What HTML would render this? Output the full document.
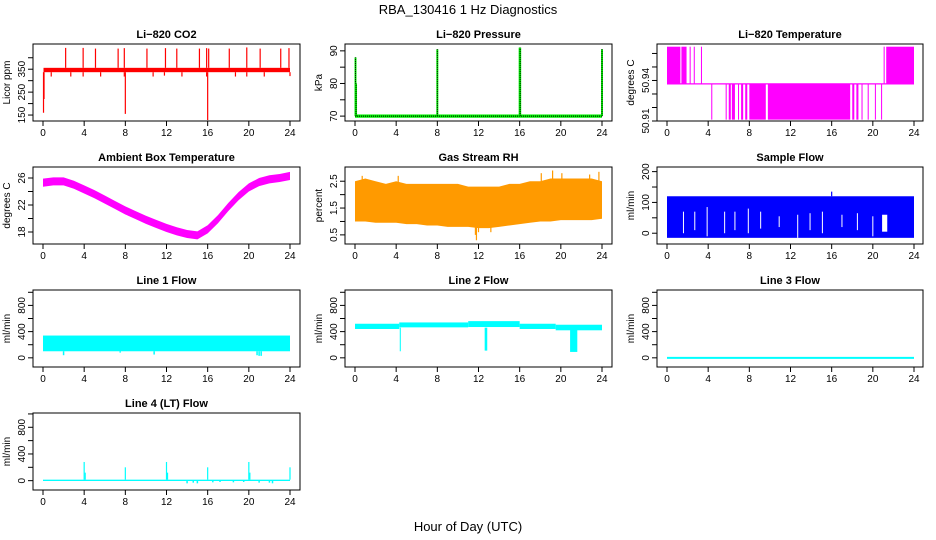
<!DOCTYPE html>
<html><head><meta charset="utf-8"><style>
html,body{margin:0;padding:0;background:#fff;}
svg{display:block;font-family:"Liberation Sans",Arial,sans-serif;}
</style></head><body>
<svg id="chart" width="936" height="540" viewBox="0 0 936 540" xmlns="http://www.w3.org/2000/svg">
<text x="468" y="14" text-anchor="middle" font-size="13">RBA_130416  1 Hz Diagnostics</text>
<text x="468" y="531" text-anchor="middle" font-size="13">Hour of Day (UTC)</text>
</svg>
<script>
// ---- data ----
var xTicks = [0,4,8,12,16,20,24];
var hours = [0,1,2,3,4,5,6,7,8,9,10,11,12,13,14,15,16,17,18,19,20,21,22,23,24];

var co2BandLow = 337, co2BandHigh = 356;
var co2UpTimes = [2.2,3.9,5.1,7.3,7.9,10.1,11.9,13.0,15.2,15.9,16.1,18.1,19.8,21.1,23.1,23.9];
var co2UpVals  = [443,443,440,440,442,440,442,440,440,442,440,440,445,440,440,442];
var co2DownTimes = [0.05,0.1,0.8,2.7,3.9,5.6,7.9,8.0,10.7,11.8,13.5,15.9,16.0,18.7,19.8,21.5,24.0];
var co2DownVals  = [160,220,318,318,318,318,318,155,318,322,318,318,128,318,318,318,320];

var presBase = 70;
var presSpikeTimes = [0.05,0.1,8.0,16.0,16.05,24.0];
var presSpikeVals  = [88,80,90.5,91,91,90.5];

var tempHigh = 50.965, tempMid = 50.9375, tempLow = 50.911;
var tempHighStart = [0,1.4,2.2,2.6,3.3,21.05,21.3];
var tempHighEnd   = [1.3,1.9,2.3,2.7,3.4,21.15,24];
var tempLowStart  = [4.3,5.7,6.0,6.3,6.9,7.2,7.6,8.0,9.8,18.0,18.4,18.9,19.5,20.2,20.8];
var tempLowEnd    = [4.4,5.8,6.2,6.6,7.0,7.4,7.8,9.6,17.8,18.2,18.6,19.0,19.6,20.3,20.9];

var ambientMean = [25.3,25.5,25.5,25.0,24.3,23.6,22.8,22.0,21.2,20.5,19.8,19.2,18.6,18.1,17.7,17.5,18.4,19.9,21.7,23.3,24.6,25.4,25.8,26.0,26.3];
var ambientHalfWidth = 0.6;

var rhMin = [1.0,1.0,0.95,0.95,0.95,0.9,0.9,0.85,0.85,0.8,0.8,0.8,0.75,0.75,0.8,0.85,0.9,0.95,1.0,1.0,1.05,1.05,1.05,1.05,1.1];
var rhMax = [2.5,2.6,2.5,2.4,2.5,2.4,2.4,2.4,2.4,2.4,2.4,2.3,2.3,2.3,2.3,2.4,2.4,2.5,2.5,2.6,2.6,2.6,2.6,2.6,2.5];
var rhSpikeTimes = [0.7,4.2,11.7,11.8,12.0,13.2,18.1,19.2,20.1,22.8,23.7];
var rhSpikeVals  = [2.7,2.7,0.5,0.3,0.6,0.6,2.8,2.9,2.8,2.75,2.85];

var sampleMin = -15, sampleMax = 120;
var sampleSpikeTimes = [16.0];
var sampleSpikeVals  = [135];
var sampleGapTimes = [1.6,2.7,3.9,5.6,6.6,7.9,9.1,10.9,12.7,13.9,15.1,17.0,18.5,20.0];
var sampleGapLow   = [0,10,-10,0,10,0,15,20,-15,10,0,20,10,-10];
var sampleGapHigh  = [70,70,85,70,70,80,70,55,60,65,70,60,65,55];

var line1Min = 100, line1Max = 340;
var line1DipTimes = [2.0,7.5,10.8,20.8,21.0,21.2];
var line1DipVals  = [40,80,50,40,30,30];

var line2SegStart = [0,4.3,11.0,16.0,19.5];
var line2SegEnd   = [4.3,11.0,16.0,19.5,24];
var line2SegMin   = [440,465,470,440,420];
var line2SegMax   = [520,540,560,520,505];
var line2DipStart = [4.35,12.6,20.9];
var line2DipEnd   = [4.45,12.85,21.6];
var line2DipVals  = [100,110,90];

var line3Value = 0;

var line4Min = -5, line4Max = 15;
var line4SpikeTimes = [4.0,4.1,8.0,12.0,12.1,16.0,20.0,20.1,24.0];
var line4SpikeVals  = [280,120,200,280,120,200,280,120,200];
var line4DipTimes = [14.0,14.6,15.0,16.5,17.2,18.5,19.5,21.0,22.0,22.3];
var line4DipVals  = [-40,-30,-40,-25,-20,-25,-20,-30,-30,-40];

// ---- layout ----
var svg = document.getElementById('chart');
var NS = 'http://www.w3.org/2000/svg';
var cols = [{bx:33,bw:267,x0:43,x1:290},{bx:345,bw:267,x0:355,x1:602},{bx:657,bw:266,x0:667,x1:914}];
var rows = [44,167,290,413];
var BH = 77;

function el(tag, attrs, name, parent) {
  var e = document.createElementNS(NS, tag);
  for (var k in attrs) e.setAttribute(k, attrs[k]);
  
  
  (parent || svg).appendChild(e);
  return e;
}

function makePanel(col, row, key, title, ylab, ymin, ymax, yticks, ylabels) {
  var c = cols[col], top = rows[row];
  var g = el('g', {}, key + '-panel');
  var p = {
    g: g,
    x: function (t) { return c.x0 + t / 24 * (c.x1 - c.x0); },
    y: function (v) { return top + BH - (v - ymin) / (ymax - ymin) * BH; }
  };
  var t = el('text', {x: c.bx + c.bw / 2, y: top - 6, 'text-anchor': 'middle', 'font-size': 11, 'font-weight': 'bold'}, key + '-title', g);
  t.textContent = title;
  var bot = top + BH;
  el('line', {x1: p.x(0), x2: p.x(24), y1: bot, y2: bot, stroke: '#000'}, key + '-x-axis-line', g);
  xTicks.forEach(function (v) {
    el('line', {x1: p.x(v), x2: p.x(v), y1: bot, y2: bot + 5, stroke: '#000'}, key + '-x-tick', g);
    var lt = el('text', {x: p.x(v), y: bot + 15, 'text-anchor': 'middle', 'font-size': 10}, key + '-x-tick-label', g);
    lt.textContent = v;
  });
  el('line', {x1: c.bx, x2: c.bx, y1: p.y(yticks[0]), y2: p.y(yticks[yticks.length - 1]), stroke: '#000'}, key + '-y-axis-line', g);
  yticks.forEach(function (v) {
    el('line', {x1: c.bx - 5, x2: c.bx, y1: p.y(v), y2: p.y(v), stroke: '#000'}, key + '-y-tick', g);
  });
  ylabels.forEach(function (v) {
    var yy = p.y(v), xx = c.bx - 8;
    var lt = el('text', {x: xx, y: yy, 'text-anchor': 'middle', 'font-size': 10, transform: 'rotate(-90 ' + xx + ' ' + yy + ')'}, key + '-y-tick-label', g);
    lt.textContent = v;
  });
  var ax = c.bx - 23, ay = top + BH / 2;
  var yt = el('text', {x: ax, y: ay, 'text-anchor': 'middle', 'font-size': 10, transform: 'rotate(-90 ' + ax + ' ' + ay + ')'}, key + '-y-axis-title', g);
  yt.textContent = ylab;
  p.dataG = el('g', {}, key + '-series', g);
  p.box = function () {
    el('rect', {x: c.bx, y: top, width: c.bw, height: BH, fill: 'none', stroke: '#000', 'stroke-width': 1}, key + '-plot-frame', g);
  };
  return p;
}

function vline(p, t, v0, v1, color, name, w) {
  el('line', {x1: p.x(t), x2: p.x(t), y1: p.y(v0), y2: p.y(v1), stroke: color, 'stroke-width': w || 1.2}, name, p.dataG);
}
function band(p, t0, t1, v0, v1, fill, name) {
  var y0 = p.y(v1), y1 = p.y(v0);
  el('rect', {x: p.x(t0), y: y0, width: p.x(t1) - p.x(t0), height: y1 - y0, fill: fill}, name, p.dataG);
}
function bandPoly(p, ts, lo, hi, fill, name) {
  var pts = [];
  for (var i = 0; i < ts.length; i++) pts.push(p.x(ts[i]) + ',' + p.y(hi[i]));
  for (var j = ts.length - 1; j >= 0; j--) pts.push(p.x(ts[j]) + ',' + p.y(lo[j]));
  el('polygon', {points: pts.join(' '), fill: fill}, name, p.dataG);
}

var p1 = makePanel(0, 0, 'co2', 'Li\u2212820 CO2', 'Licor ppm', 124, 460, [150,200,250,300,350,400], [150,250,350]);
band(p1, 0.05, 24, co2BandLow, co2BandHigh, '#ff0000', 'co2-band');
co2UpTimes.forEach(function (t, i) { vline(p1, t, co2BandHigh, co2UpVals[i], '#ff0000', 'co2-spike-up'); });
co2DownTimes.forEach(function (t, i) { vline(p1, t, co2BandLow, co2DownVals[i], '#ff0000', 'co2-spike-down'); });
p1.box();

var p2 = makePanel(1, 0, 'pressure', 'Li\u2212820 Pressure', 'kPa', 68.5, 92.1, [70,75,80,85,90], [70,80,90]);
band(p2, 0, 24, presBase - 0.5, presBase + 0.5, '#00ee00', 'pressure-band');
el('line', {x1: p2.x(0), x2: p2.x(24), y1: p2.y(presBase), y2: p2.y(presBase), stroke: '#000', 'stroke-dasharray': '1,1'}, 'pressure-line', p2.dataG);
presSpikeTimes.forEach(function (t, i) {
  vline(p2, t, presBase, presSpikeVals[i], '#00ee00', 'pressure-spike', 2);
  el('line', {x1: p2.x(t), x2: p2.x(t), y1: p2.y(presBase), y2: p2.y(presSpikeVals[i]), stroke: '#000', 'stroke-dasharray': '1,1'}, 'pressure-spike-dots', p2.dataG);
});
p2.box();

var p3 = makePanel(2, 0, 'li820-temp', 'Li\u2212820 Temperature', 'degrees C', 50.91, 50.967, [50.91,50.92,50.93,50.94,50.95,50.96], [50.91,50.94]);
tempHighStart.forEach(function (t, i) { band(p3, t, tempHighEnd[i], tempMid, tempHigh, '#ff00ff', 'temp-high-block'); });
tempLowStart.forEach(function (t, i) { band(p3, t, tempLowEnd[i], tempLow, tempMid, '#ff00ff', 'temp-low-block'); });
el('line', {x1: p3.x(0), x2: p3.x(24), y1: p3.y(tempMid), y2: p3.y(tempMid), stroke: '#ff00ff', 'stroke-width': 1.2}, 'temp-mid-line', p3.dataG);
p3.box();

var p4 = makePanel(0, 1, 'ambient', 'Ambient Box Temperature', 'degrees C', 16.22, 27.63, [18,20,22,24,26], [18,22,26]);
bandPoly(p4, hours, ambientMean.map(function (v) { return v - ambientHalfWidth; }), ambientMean.map(function (v) { return v + ambientHalfWidth; }), '#ff00ff', 'ambient-band');
p4.box();

var p5 = makePanel(1, 1, 'rh', 'Gas Stream RH', 'percent', 0.16, 3.03, [0.5,1,1.5,2,2.5], [0.5,1.5,2.5]);
bandPoly(p5, hours, rhMin, rhMax, '#ff9a00', 'rh-band');
rhSpikeTimes.forEach(function (t, i) { vline(p5, t, 1.7, rhSpikeVals[i], '#ff9a00', 'rh-spike'); });
p5.box();

var p6 = makePanel(2, 1, 'sample-flow', 'Sample Flow', 'ml/min', -35, 215, [0,50,100,150,200], [0,100,200]);
band(p6, 0, 24, sampleMin, sampleMax, '#0000ff', 'sample-band');
sampleSpikeTimes.forEach(function (t, i) { vline(p6, t, sampleMax, sampleSpikeVals[i], '#0000ff', 'sample-spike'); });
sampleGapTimes.forEach(function (t, i) { vline(p6, t, sampleGapLow[i], sampleGapHigh[i], '#ffffff', 'sample-gap', 1); });
band(p6, 20.9, 21.4, 5, 60, '#ffffff', 'sample-gap-block');
p6.box();

var p7 = makePanel(0, 2, 'line1', 'Line 1 Flow', 'ml/min', -140, 1035, [0,200,400,600,800,1000], [0,400,800]);
band(p7, 0, 24, line1Min, line1Max, '#00ffff', 'line1-band');
line1DipTimes.forEach(function (t, i) { vline(p7, t, line1Min, line1DipVals[i], '#00ffff', 'line1-dip', 1.5); });
p7.box();

var p8 = makePanel(1, 2, 'line2', 'Line 2 Flow', 'ml/min', -140, 1035, [0,200,400,600,800,1000], [0,400,800]);
line2SegStart.forEach(function (t, i) { band(p8, t, line2SegEnd[i], line2SegMin[i], line2SegMax[i], '#00ffff', 'line2-segment'); });
line2DipStart.forEach(function (t, i) { band(p8, t, line2DipEnd[i], line2DipVals[i], 460, '#00ffff', 'line2-dip'); });
p8.box();

var p9 = makePanel(2, 2, 'line3', 'Line 3 Flow', 'ml/min', -140, 1035, [0,200,400,600,800,1000], [0,400,800]);
el('line', {x1: p9.x(0), x2: p9.x(24), y1: p9.y(line3Value), y2: p9.y(line3Value), stroke: '#00ffff', 'stroke-width': 2}, 'line3-line', p9.dataG);
p9.box();

var p10 = makePanel(0, 3, 'line4', 'Line 4 (LT) Flow', 'ml/min', -140, 1014, [0,200,400,600,800,1000], [0,400,800]);
band(p10, 0, 24, line4Min, line4Max, '#00ffff', 'line4-band');
line4SpikeTimes.forEach(function (t, i) { vline(p10, t, line4Max, line4SpikeVals[i], '#00ffff', 'line4-spike'); });
line4DipTimes.forEach(function (t, i) { vline(p10, t, line4Min, line4DipVals[i], '#00ffff', 'line4-dip', 1.5); });
p10.box();
</script>
</body></html>
